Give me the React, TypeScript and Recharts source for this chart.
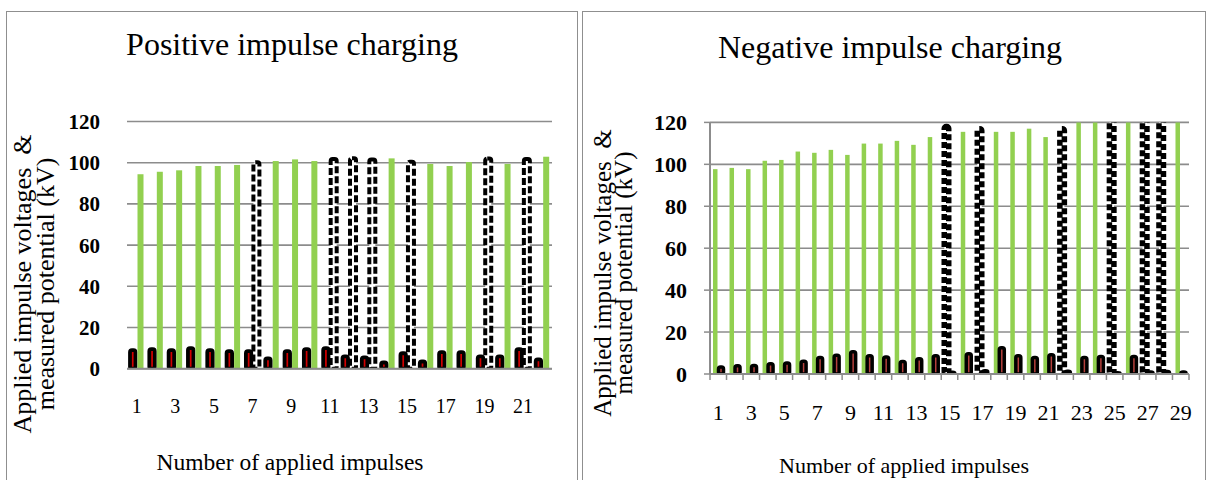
import React from "react";
import { BarChart, Bar, XAxis, YAxis, CartesianGrid } from "recharts";

// Positive impulse charging
const posImpulses = ["1", "2", "3", "4", "5", "6", "7", "8", "9", "10", "11", "12", "13", "14", "15", "16", "17", "18", "19", "20", "21", "22"];
const posApplied = [94.4, 95.6, 96.3, 98.4, 98.4, 98.9, 100.2, 100.8, 101.6, 100.8, 101.8, 102.2, 101.5, 102.1, 100.5, 99.4, 98.4, 100.3, 102, 99.4, 101.8, 102.9];
const posMeasured = [9, 9.5, 9, 10, 9, 8.5, 8.5, 5, 8.5, 9.5, 10, 6, 5.5, 3, 7.5, 3.5, 8, 8, 6, 6, 9.5, 4.5];
const posFlashover = ["7", "11", "12", "13", "15", "19", "21"];

// Negative impulse charging
const negImpulses = ["1", "2", "3", "4", "5", "6", "7", "8", "9", "10", "11", "12", "13", "14", "15", "16", "17", "18", "19", "20", "21", "22", "23", "24", "25", "26", "27", "28", "29"];
const negApplied = [97.7, 98.3, 97.7, 101.7, 102.1, 106.1, 105.5, 106.9, 104.5, 109.9, 109.9, 111.2, 109.3, 113, 118, 115.5, 117, 115.5, 115.5, 117, 113, 117, 122, 122, 122, 122, 122, 122, 122];
const negMeasured = [3.3, 3.9, 4.1, 4.9, 5.3, 6.1, 7.9, 9, 10.6, 8.7, 8.1, 6, 7.3, 8.7, 0.8, 9.7, 1.5, 12.5, 8.7, 7.9, 9.2, 1.3, 7.9, 8.4, 0.6, 8.3, 1, 1.2, 1];
const negFlashover = ["15", "17", "22", "25", "27", "28"];

const yTicks = [0, 20, 40, 60, 80, 100, 120];

const FONT = "Liberation Serif, Times New Roman, serif";
const GREEN = "#92D050";
const GRID = "#8c8c8c";

type Row = { n: string; applied: number; measured: number; flash: boolean };

function buildRows(names: string[], applied: number[], measured: number[], flash: string[]): Row[] {
  return names.map((n, i) => ({ n, applied: applied[i], measured: measured[i], flash: flash.includes(n) }));
}

const posRows = buildRows(posImpulses, posApplied, posMeasured, posFlashover);
const negRows = buildRows(negImpulses, negApplied, negMeasured, negFlashover);

type Cfg = {
  width: number;
  left: number;
  right: number;
  top: number;
  bottom: number;
  ticks: boolean;
  yAxisLine: boolean;
  xFont: number;
  yFont: number;
  yLabelGap: number;
  labelDy: number;
  appliedFirst: boolean;
  appliedSize: number;
  measuredSize: number;
  barGap: number;
  measuredStroke: number;
  red: string;
  dashWidth: number;
  dash: string;
};

function ImpulseChart({ rows, cfg }: { rows: Row[]; cfg: Cfg }) {
  const band = (cfg.right - cfg.left) / rows.length;

  const XTick = (p: any) => {
    const { x, y, index, payload } = p;
    return (
      <g>
        {cfg.ticks && <line x1={x - band / 2} x2={x - band / 2} y1={y} y2={y + 6} stroke={GRID} strokeWidth={1.5} />}
        {cfg.ticks && index === rows.length - 1 && (
          <line x1={x + band / 2} x2={x + band / 2} y1={y} y2={y + 6} stroke={GRID} strokeWidth={1.5} />
        )}
        {index % 2 === 0 && (
          <text x={x} y={y + cfg.labelDy} textAnchor="middle" dominantBaseline="central"
            style={{ fontFamily: FONT }} fontSize={cfg.xFont} fill="#000">
            {payload.value}
          </text>
        )}
      </g>
    );
  };

  const appliedShape = (p: any) => {
    const { x, y, width, height, payload } = p;
    if (!height || height <= 0) return <g />;
    if (payload.flash) {
      return (
        <rect x={x} y={y} width={width} height={height} rx={2} fill="#fff" stroke="#000"
          strokeWidth={cfg.dashWidth} strokeDasharray={cfg.dash} strokeLinejoin="round" />
      );
    }
    return <rect x={x} y={y} width={width} height={height} fill={GREEN} />;
  };

  const measuredShape = (p: any) => {
    const { x, y, width, height } = p;
    if (!height || height <= 0) return <g />;
    return (
      <rect x={x} y={y} width={width} height={height} rx={2} fill={cfg.red} stroke="#000"
        strokeWidth={cfg.measuredStroke} strokeLinejoin="round" />
    );
  };

  const applied = (
    <Bar key="applied" dataKey="applied" barSize={cfg.appliedSize} shape={appliedShape} isAnimationActive={false} />
  );
  const measured = (
    <Bar key="measured" dataKey="measured" barSize={cfg.measuredSize} shape={measuredShape} isAnimationActive={false} />
  );

  return (
    <BarChart
      width={cfg.width}
      height={480}
      data={rows}
      barGap={cfg.barGap}
      margin={{ top: cfg.top, right: cfg.width - cfg.right, left: 0, bottom: 0 }}
    >
      <CartesianGrid vertical={false} stroke={GRID} strokeWidth={1.6} />
      <XAxis
        dataKey="n"
        interval={0}
        tickSize={0}
        tickMargin={0}
        tickLine={false}
        tick={XTick}
        height={480 - cfg.bottom}
        axisLine={{ stroke: GRID, strokeWidth: 2 }}
      />
      <YAxis
        domain={[0, 120]}
        ticks={yTicks}
        allowDataOverflow
        width={cfg.left}
        axisLine={cfg.yAxisLine ? { stroke: GRID, strokeWidth: 2 } : false}
        tickLine={cfg.yAxisLine ? { stroke: GRID, strokeWidth: 1.5 } : false}
        tickSize={cfg.yAxisLine ? 6 : 0}
        tickMargin={cfg.yLabelGap}
        tick={{ fontFamily: FONT, fontSize: cfg.yFont, fontWeight: "bold", fill: "#000" }}
      />
      {cfg.appliedFirst ? [applied, measured] : [measured, applied]}
    </BarChart>
  );
}

const posCfg: Cfg = {
  width: 580, left: 127, right: 552, top: 121.5, bottom: 368.7,
  ticks: false, yAxisLine: false, xFont: 20, yFont: 21, yLabelGap: 27, labelDy: 37,
  appliedFirst: false, appliedSize: 6, measuredSize: 5.5, barGap: 2,
  measuredStroke: 3.8, red: "#d40000", dashWidth: 4, dash: "7 3",
};

const negCfg: Cfg = {
  width: 625, left: 128, right: 607, top: 122.4, bottom: 374,
  ticks: true, yAxisLine: true, xFont: 22, yFont: 22, yLabelGap: 17, labelDy: 38,
  appliedFirst: true, appliedSize: 4.5, measuredSize: 5, barGap: 1,
  measuredStroke: 3.5, red: "#b5403c", dashWidth: 5.5, dash: "6 3",
};

const textBase: React.CSSProperties = {
  position: "absolute",
  fontFamily: FONT,
  color: "#000",
  whiteSpace: "nowrap",
  transform: "translate(-50%, -50%)",
};

function Label({ x, y, size, text }: { x: number; y: number; size: number; text: string }) {
  return <div style={{ ...textBase, left: x, top: y, fontSize: size, lineHeight: 1 }}>{text}</div>;
}

function YTitle({ x, y, size, lh }: { x: number; y: number; size: number; lh: number }) {
  return (
    <div style={{ ...textBase, left: x, top: y, fontSize: size, lineHeight: `${lh}px`, textAlign: "center", transform: "translate(-50%, -50%) rotate(-90deg)" }}>
      Applied impulse voltages&nbsp; &amp;<br />measured potential (kV)
    </div>
  );
}

export default function App() {
  return (
    <div style={{ position: "absolute", left: 0, top: 0, width: 1207, height: 480, overflow: "hidden", background: "#fff" }}>
      <div style={{ position: "absolute", left: 6, top: 11, width: 570, height: 480, border: "1.5px solid #8f8f8f" }} />
      <div style={{ position: "absolute", left: 582, top: 11, width: 622, height: 480, border: "1.5px solid #8f8f8f" }} />

      <div style={{ position: "absolute", left: 0, top: 0 }}>
        <ImpulseChart rows={posRows} cfg={posCfg} />
      </div>
      <div style={{ position: "absolute", left: 582, top: 0 }}>
        <ImpulseChart rows={negRows} cfg={negCfg} />
      </div>

      <Label x={292} y={44} size={32} text="Positive  impulse charging" />
      <Label x={890} y={47} size={32} text="Negative  impulse charging" />
      <Label x={290} y={463} size={23.5} text="Number of applied impulses" />
      <Label x={904} y={466} size={22} text="Number of applied impulses" />
      <YTitle x={34} y={284} size={26} lh={23} />
      <YTitle x={613} y={273} size={25} lh={21} />
    </div>
  );
}
